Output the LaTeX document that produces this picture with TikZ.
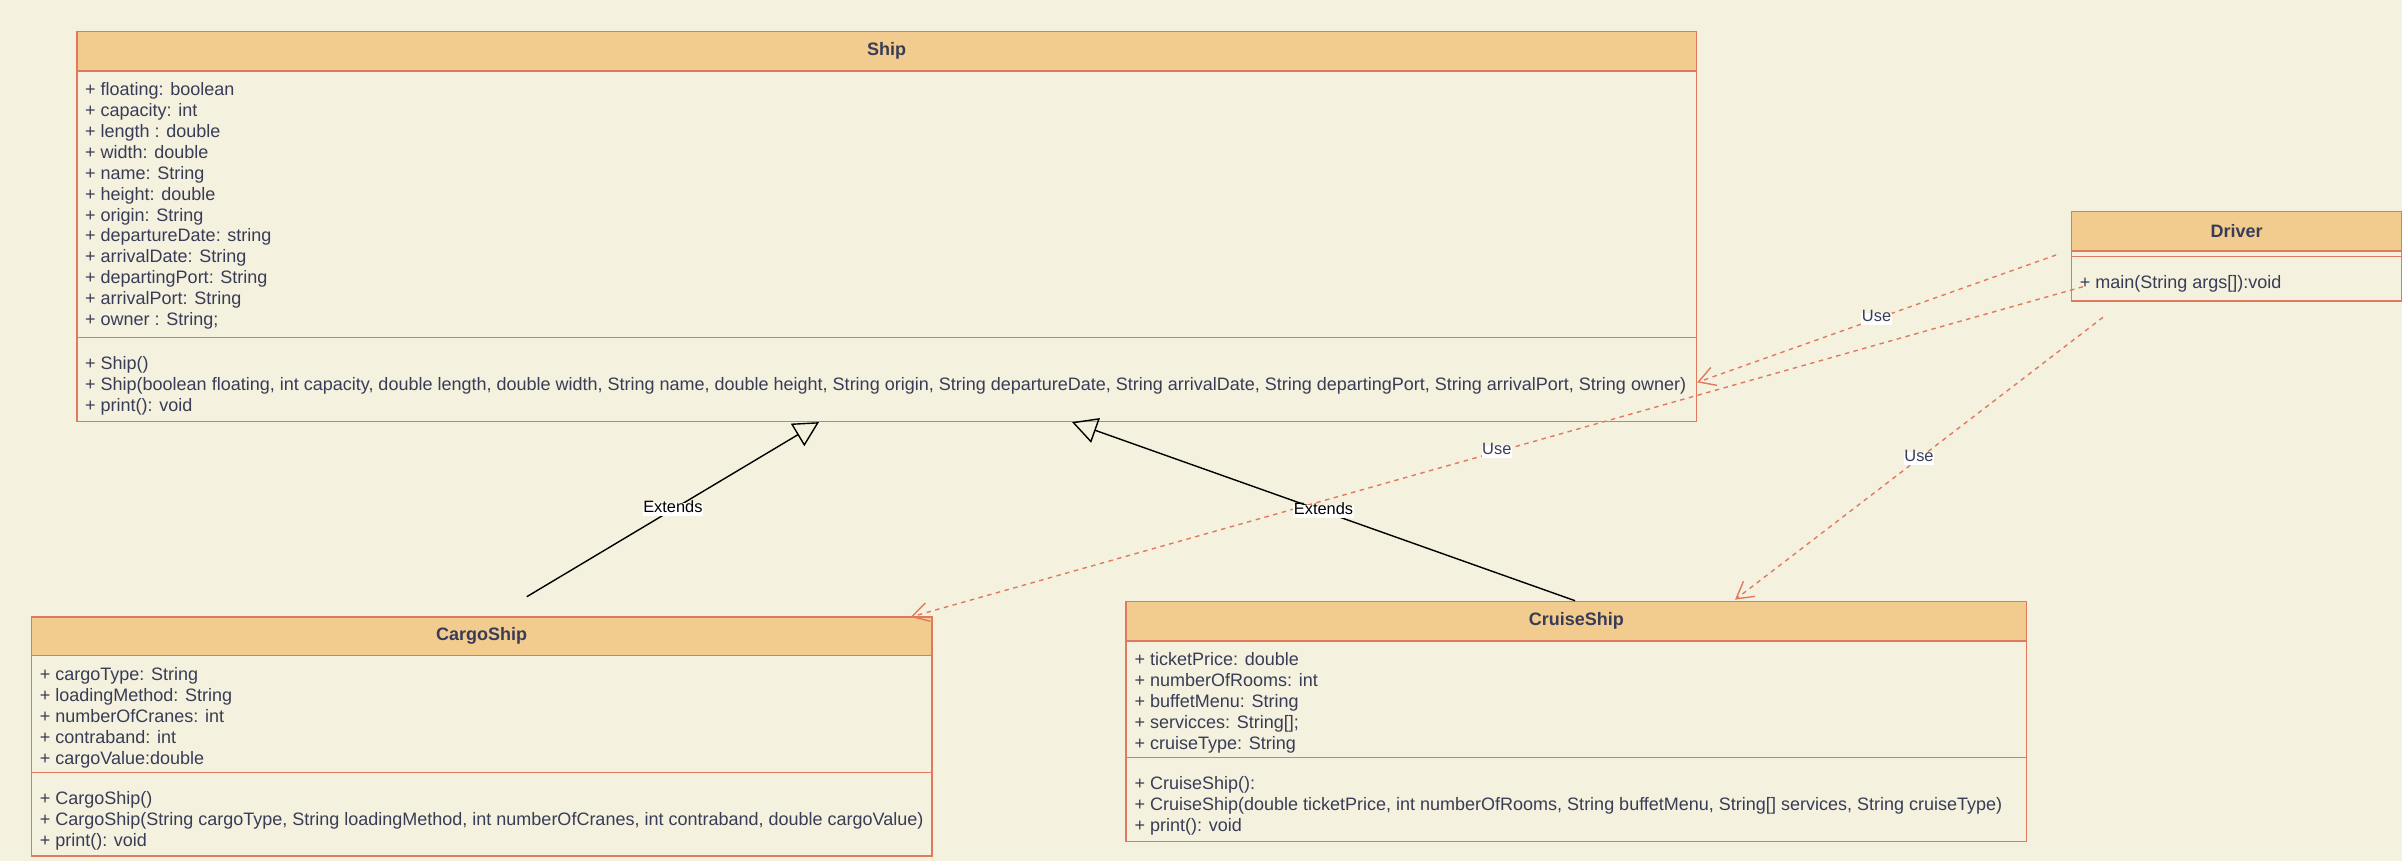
\documentclass[tikz,border=0pt]{standalone}
\usepackage{fontspec}
\setmainfont{Liberation Sans}
\usetikzlibrary{arrows.meta,calc}
\definecolor{bg}{HTML}{F4F1DE}
\definecolor{hdrfill}{HTML}{F2CC8F}
\definecolor{stk}{HTML}{E07A5F}
\definecolor{txt}{HTML}{393C56}
\tikzset{
  classhdr/.style={draw=stk, fill=hdrfill, line width=1.6pt, anchor=north west, inner sep=0pt,
    text=txt, font=\fontsize{18}{20.9}\selectfont\bfseries, minimum height=39.3pt},
  classbody/.style={draw=stk, fill=bg, line width=1.6pt, anchor=north west, inner sep=0pt},
  members/.style={anchor=base west, inner sep=0pt, text=txt, font=\fontsize{18}{20.9}\selectfont},
  extends/.style={draw=black, line width=1.4pt, -{Triangle[open,length=25pt,width=26pt]}},
  uses/.style={draw=stk, line width=1.4pt, dash pattern=on 4.5pt off 4.5pt,
    -{Straight Barb[length=16.5pt,width=19pt]}},
  elabel/.style={fill=white, inner xsep=0.5pt, inner ysep=1.5pt,
    font=\fontsize{16.4}{19}\selectfont, text height=0.72em, text depth=0.2em},
}
\begin{document}
\begin{tikzpicture}[x=1pt,y=-1pt]
\useasboundingbox (0,0) rectangle (2402,861);
\fill[bg] (0,0) rectangle (2402,861);

% ---------- Ship ----------
\node[classhdr, minimum width=1619.5pt] (ship) at (76,30.7) {Ship};
\node[classbody, minimum width=1619.5pt, minimum height=266.7pt] (shipattr) at (76,70) {};
\node[classbody, minimum width=1619.5pt, minimum height=83.8pt] (shipmeth) at (76,336.7) {};
\node[members] (shipattrtxt) at ($(shipattr.north west)+(9,25.7)$) {\begin{tabular}[t]{@{}l@{}}
+ floating: boolean\\
+ capacity: int\\
+ length : double\\
+ width: double\\
+ name: String\\
+ height: double\\
+ origin: String\\
+ departureDate: string\\
+ arrivalDate: String\\
+ departingPort: String\\
+ arrivalPort: String\\
+ owner : String;
\end{tabular}};
\node[members] (shipmethtxt) at ($(shipmeth.north west)+(9,32.6)$) {\begin{tabular}[t]{@{}l@{}}
+ Ship()\\
+ Ship(boolean floating, int capacity, double length, double width, String name, double height, String origin, String departureDate, String arrivalDate, String departingPort, String arrivalPort, String owner)\\
+ print(): void
\end{tabular}};

% ---------- Driver ----------
\node[classhdr, minimum width=330pt] (driver) at (2070.7,210.7) {Driver};
\node[classbody, minimum width=330pt, minimum height=5.7pt] (driverattr) at (2070.7,250) {};
\node[classbody, minimum width=330pt, minimum height=44.3pt] (drivermeth) at (2070.7,255.7) {};
\node[members] (drivermethtxt) at ($(drivermeth.north west)+(9,32.6)$) {+ main(String args[]):void};

% ---------- CargoShip ----------
\node[classhdr, minimum width=900.4pt, minimum height=38.7pt] (cargo) at (30.6,616) {CargoShip};
\node[classbody, minimum width=900.4pt, minimum height=117pt] (cargoattr) at (30.6,654.7) {};
\node[classbody, minimum width=900.4pt, minimum height=83.6pt] (cargometh) at (30.6,771.7) {};
\node[members] (cargoattrtxt) at ($(cargoattr.north west)+(9,26)$) {\begin{tabular}[t]{@{}l@{}}
+ cargoType: String\\
+ loadingMethod: String\\
+ numberOfCranes: int\\
+ contraband: int\\
+ cargoValue:double
\end{tabular}};
\node[members] (cargomethtxt) at ($(cargometh.north west)+(9,32.6)$) {\begin{tabular}[t]{@{}l@{}}
+ CargoShip()\\
+ CargoShip(String cargoType, String loadingMethod, int numberOfCranes, int contraband, double cargoValue)\\
+ print(): void
\end{tabular}};

% ---------- CruiseShip ----------
\node[classhdr, minimum width=900.4pt] (cruise) at (1125.4,600.7) {CruiseShip};
\node[classbody, minimum width=900.4pt, minimum height=116.7pt] (cruiseattr) at (1125.4,640) {};
\node[classbody, minimum width=900.4pt, minimum height=84pt] (cruisemeth) at (1125.4,756.7) {};
\node[members] (cruiseattrtxt) at ($(cruiseattr.north west)+(9,25.7)$) {\begin{tabular}[t]{@{}l@{}}
+ ticketPrice: double\\
+ numberOfRooms: int\\
+ buffetMenu: String\\
+ servicces: String[];\\
+ cruiseType: String
\end{tabular}};
\node[members] (cruisemethtxt) at ($(cruisemeth.north west)+(9,32.6)$) {\begin{tabular}[t]{@{}l@{}}
+ CruiseShip():\\
+ CruiseShip(double ticketPrice, int numberOfRooms, String buffetMenu, String[] services, String cruiseType)\\
+ print(): void
\end{tabular}};

% ---------- connector end points ----------
\coordinate (e1s) at (526.8,596.7);
\coordinate (e1t) at ($(shipmeth.south west)+(743,0)$);
\coordinate (e2s) at ($(cruise.north west)+(449.6,0)$);
\coordinate (e2t) at ($(shipmeth.south west)+(996,0)$);
\coordinate (u1s) at (2056,255);
\coordinate (u1t) at ($(shipmeth.east)+(0,3)$);
\coordinate (u2s) at (2083,286.7);
\coordinate (u2t) at ($(cargo.north east)+(-22,1)$);
\coordinate (u3s) at (2103,317.3);
\coordinate (u3t) at ($(cruise.north west)+(609.6,-1)$);

% ---------- connectors ----------
\draw[extends] (e1s) -- (e1t);
\draw[extends] (e2s) -- (e2t);
\draw[uses] (u1s) -- (u1t);
\draw[uses] (u2s) -- (u2t);
\draw[uses] (u3s) -- (u3t);

% ---------- labels ----------
\node[elabel, text=black] (lext1) at ($(e1s)!0.5!(e1t)$) {Extends};
\node[elabel, text=black] (lext2) at ($(e2s)!0.5!(e2t)$) {Extends};
\node[elabel, text=txt] (luse1) at ($(u1s)!0.5!(u1t)$) {Use};
\node[elabel, text=txt] (luse2) at ($(u2s)!0.5!(u2t)$) {Use};
\node[elabel, text=txt] (luse3) at ($(u3s)!0.5!(u3t)$) {Use};
\end{tikzpicture}
\end{document}
